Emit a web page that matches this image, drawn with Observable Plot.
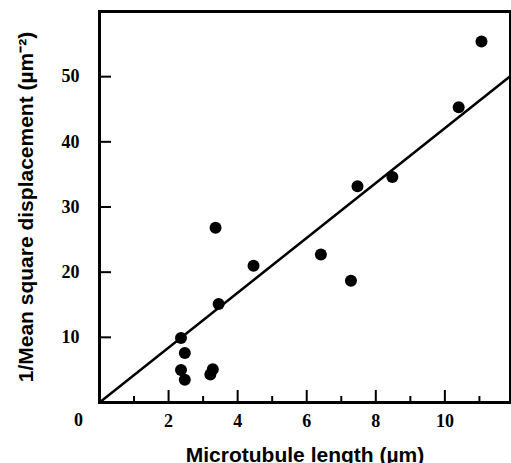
<!DOCTYPE html>
<html>
<head>
<meta charset="utf-8">
<script src="https://cdn.jsdelivr.net/npm/d3@7"></script>
<script src="https://cdn.jsdelivr.net/npm/@observablehq/plot@0.6"></script>
<style>
  html, body { margin: 0; padding: 0; background: #fff; }
</style>
</head>
<body>
<div id="chart"></div>
<script>
const lengthUm = [11.06, 10.4, 8.48, 7.47, 6.41, 7.28, 4.46, 3.36, 3.45, 2.36, 2.47, 2.36, 2.47, 3.28, 3.21];
const invMsd   = [55.4, 45.3, 34.6, 33.2, 22.7, 18.7, 21.0, 26.8, 15.1, 9.9, 7.6, 5.0, 3.5, 5.1, 4.3];
const fitX = [0, 11.9];
const fitY = [0, 50.1];
const xMajorTicks = [2, 4, 6, 8, 10];
const xMinorTicks = [1, 3, 5, 7, 9, 11];
const yTicks = [10, 20, 30, 40, 50];
const originLabel = ["0"];
const xTitle = "Microtubule length (\u00b5m)";
const yTitle = "1/Mean square displacement (\u00b5m\u207b\u00b2)";

const points = lengthUm.map((x, i) => ({x, y: invMsd[i]}));
const fit = fitX.map((x, i) => ({x, y: fitY[i]}));
const numFont = "Liberation Serif, Times New Roman, serif";
const titleFont = "Liberation Sans, Arial, sans-serif";

const W = 511, H = 463, ML = 99, MR = 1, MT = 11, MB = 61;
const frameW = W - ML - MR, frameH = H - MT - MB;

const chart = Plot.plot({
  width: W,
  height: H,
  marginLeft: ML,
  marginRight: MR,
  marginTop: MT,
  marginBottom: MB,
  x: {domain: [0, 11.9]},
  y: {domain: [0, 60]},
  style: {background: "white", color: "black"},
  marks: [
    Plot.line(fit, {x: "x", y: "y", stroke: "black", strokeWidth: 2.5}),
    Plot.dot(points, {x: "x", y: "y", r: 6, fill: "black", stroke: "none"}),
    Plot.tickX(xMajorTicks, {x: d => d, insetTop: frameH - 12, stroke: "black", strokeWidth: 2}),
    Plot.tickX(xMinorTicks, {x: d => d, insetTop: frameH - 6, stroke: "black", strokeWidth: 2}),
    Plot.tickY(yTicks, {y: d => d, insetRight: frameW - 12, stroke: "black", strokeWidth: 2}),
    Plot.axisX(xMajorTicks, {tickSize: 0, tickPadding: 12, fontSize: 18, fontFamily: numFont, fontWeight: "bold", label: null}),
    Plot.axisY(yTicks, {tickSize: 0, tickPadding: 20, fontSize: 18, fontFamily: numFont, fontWeight: "bold", label: null}),
    Plot.text(originLabel, {x: 0, y: 0, dx: -21, dy: 18, fontSize: 18, fontFamily: numFont, fontWeight: "bold"}),
    Plot.text([xTitle], {frameAnchor: "bottom", dy: 59, fontSize: 21, fontFamily: titleFont, fontWeight: "bold"}),
    Plot.text([yTitle], {frameAnchor: "left", textAnchor: "middle", rotate: -90, dx: -73, fontSize: 21, fontFamily: titleFont, fontWeight: "bold"}),
    Plot.frame({stroke: "black", strokeWidth: 3})
  ]
});
document.getElementById("chart").appendChild(chart);
</script>
</body>
</html>
